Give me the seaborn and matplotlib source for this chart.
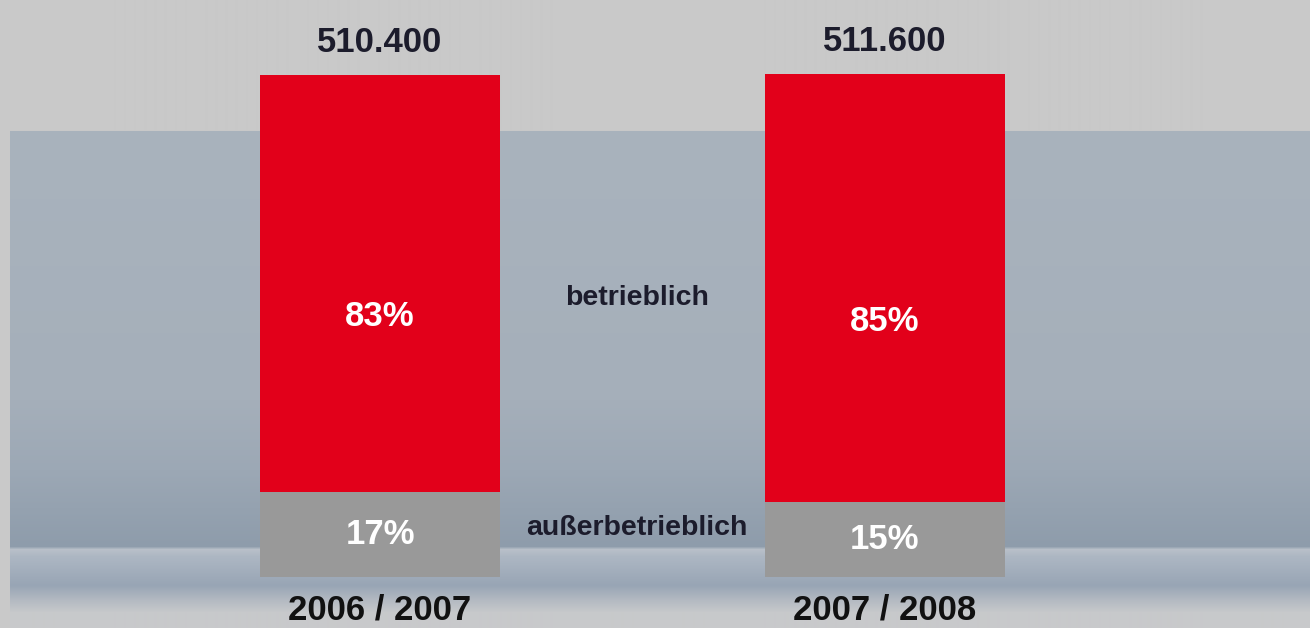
import matplotlib
matplotlib.use("Agg")
import matplotlib.pyplot as plt
import matplotlib.colors as mcolors
import numpy as np
import pandas as pd
import seaborn as sns

# Daten
jahre = ["2006 / 2007", "2007 / 2008"]
gesamt = [510.4, 511.6]          # in Tausend
gesamt_text = ["510.400", "511.600"]
betrieblich = [83, 85]           # Prozent
ausserbetrieblich = [17, 15]     # Prozent

df = pd.DataFrame({
    "jahr": jahre,
    "gesamt": gesamt,
    "betrieblich": betrieblich,
    "ausser": ausserbetrieblich,
})
df["ausser_abs"] = df["gesamt"] * df["ausser"] / 100

sns.set_theme(style="white")
plt.rcParams["font.family"] = ["Liberation Sans", "DejaVu Sans"]

W, H, DPI = 1310, 628, 100
fig = plt.figure(figsize=(W / DPI, H / DPI), dpi=DPI, facecolor="#c9c9c9")

# Hintergrund mit Farbverlauf (Pixelkoordinaten)
bg = fig.add_axes([0, 0, 1, 1], zorder=0)
bg.set_xlim(0, W)
bg.set_ylim(H, 0)
bg.axis("off")
stops = [
    (0, "#c9c9c9"), (130, "#c9c9c9"), (131, "#a9b3bd"), (400, "#a5afba"),
    (470, "#9ca8b5"), (546, "#8e9cab"), (549, "#b9c0c9"), (556, "#adb7c3"),
    (585, "#98a5b5"), (600, "#b4bac2"), (612, "#c7c9cb"), (628, "#c9c9cb"),
]
rows = np.arange(H)
pos = [s[0] for s in stops]
rgb = np.array([mcolors.to_rgb(s[1]) for s in stops])
grad = np.stack([np.interp(rows, pos, rgb[:, i]) for i in range(3)], axis=1)
img = np.repeat(grad[:, None, :], 2, axis=1)
bg.imshow(img, extent=(10, W, H, 0), aspect="auto", interpolation="bilinear")

# Hauptachse
ax = fig.add_axes([0, 0, 1, 1], zorder=1)
ax.patch.set_alpha(0)
sns.barplot(data=df, x="jahr", y="gesamt", color="#e2001a", saturation=1,
            width=0.475, ax=ax, edgecolor="none")
sns.barplot(data=df, x="jahr", y="ausser_abs", color="#999999", saturation=1,
            width=0.475, ax=ax, edgecolor="none")
ax.set_xlim(-0.7525, 1.8416)
ax.set_ylim(-51.86, 586.7)
ax.axis("off")

dunkel = "#1c1c2c"
for i, row in df.iterrows():
    unten = row["ausser_abs"]
    ax.text(i, row["gesamt"] + 33, gesamt_text[i], ha="center", va="center",
            fontsize=25, fontweight="bold", color=dunkel)
    ax.text(i, unten + 0.42 * (row["gesamt"] - unten), f"{row['betrieblich']}%",
            ha="center", va="center", fontsize=25, fontweight="bold", color="white")
    ax.text(i, unten / 2, f"{row['ausser']}%", ha="center", va="center",
            fontsize=25, fontweight="bold", color="white")
    ax.text(i, -34, row["jahr"], ha="center", va="center",
            fontsize=25, fontweight="bold", color="#111111")

ax.text(0.509, 284, "betrieblich", ha="center", va="center",
        fontsize=20.5, fontweight="bold", color=dunkel)
ax.text(0.509, 50, "außerbetrieblich", ha="center", va="center",
        fontsize=20.5, fontweight="bold", color=dunkel)

fig.savefig("out.png", dpi=DPI, facecolor=fig.get_facecolor())
